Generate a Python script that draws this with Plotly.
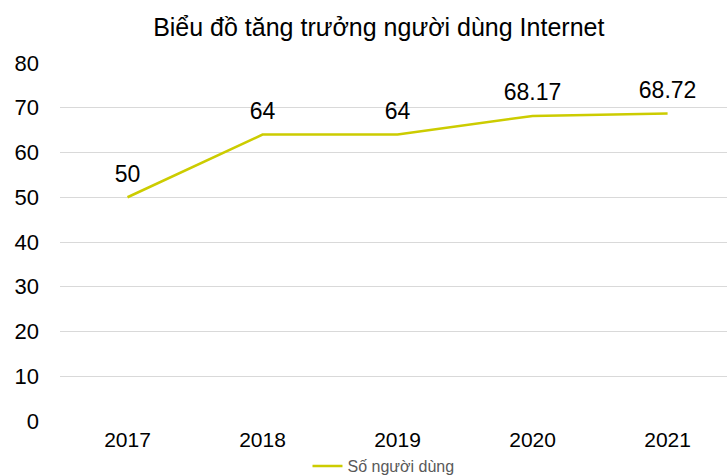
import plotly.graph_objects as go

years = ["2017", "2018", "2019", "2020", "2021"]
users = [50, 64, 64, 68.17, 68.72]
labels = ["50", "64", "64", "68.17", "68.72"]
series_name = "Số người dùng"
title = "Biểu đồ tăng trưởng người dùng Internet"

fig = go.Figure()
fig.add_trace(go.Scatter(
    x=years, y=users, mode="lines+markers+text", name=series_name,
    text=labels, textposition="top center",
    textfont=dict(size=23, color="#000000", family="Liberation Sans, Arial"),
    line=dict(color="#CCCC00", width=2.5),
    marker=dict(size=14, color="rgba(0,0,0,0)"),
    cliponaxis=False,
))

fig.update_layout(
    width=727, height=476,
    margin=dict(l=60, r=0, t=63, b=55),
    paper_bgcolor="white", plot_bgcolor="white",
    font=dict(family="Liberation Sans, Arial", color="#000000"),
    title=dict(text=title, x=0.521, xanchor="center", yref="container", y=0.943,
               yanchor="middle", font=dict(size=25, color="#000000")),
    showlegend=True,
    legend=dict(orientation="h", x=0.485, xanchor="center", yref="container", y=0.021,
                yanchor="middle", font=dict(size=16, color="#595959"), itemwidth=30),
    xaxis=dict(type="category", range=[-0.5, 4.44], showgrid=False, showline=False,
               ticks="", automargin=False,
               tickfont=dict(size=21, color="#000000"), ticklabelstandoff=4),
    yaxis=dict(range=[0, 80], dtick=10, showgrid=True, gridcolor="#D9D9D9", gridwidth=1,
               zeroline=False, showline=False, ticks="", automargin=False,
               tickfont=dict(size=22, color="#000000"), ticklabelstandoff=20),
)

fig.write_html("out.html", config={"displayModeBar": False},
               post_script="document.body.style.margin='0';")
